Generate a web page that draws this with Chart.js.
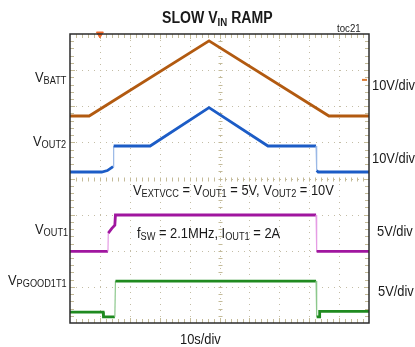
<!DOCTYPE html>
<html>
<head>
<meta charset="utf-8">
<script src="https://cdn.jsdelivr.net/npm/chart.js@4.4.1/dist/chart.umd.min.js"></script>
<style>
  body { margin: 0; background: #fff; }
  #wrap { position: relative; width: 415px; height: 347px; font-family: "Liberation Sans", Arial, sans-serif; color: #1a1a1a; }
  #scope { position: absolute; left: 0; top: 0; }
  .lbl { position: absolute; font-size: 14px; line-height: 14px; white-space: nowrap; transform-origin: left top; transform: scaleX(0.92); }
  .lbl sub { font-size: 10px; vertical-align: baseline; position: relative; top: 2px; }
  .title { font-size: 16px; line-height: 16px; font-weight: bold; transform: scaleX(0.88); }
  .title sub { font-size: 11px; top: 3px; }
  .small { font-size: 10.5px; line-height: 11px; }
</style>
</head>
<body>
<div id="wrap">
  <canvas id="scope" width="415" height="347"></canvas>
  <div class="lbl title" style="left:162px; top:10px;">SLOW V<sub>IN</sub> RAMP</div>
  <div class="lbl small" style="left:337px; top:23px;">toc21</div>

  <div class="lbl" style="left:35px; top:70px;">V<sub>BATT</sub></div>
  <div class="lbl" style="left:33px; top:134px;">V<sub>OUT2</sub></div>
  <div class="lbl" style="left:35px; top:222px;">V<sub>OUT1</sub></div>
  <div class="lbl" style="left:8px; top:273px;">V<sub>PGOOD1T1</sub></div>

  <div class="lbl" style="left:372px; top:78px;">10V/div</div>
  <div class="lbl" style="left:372px; top:151px;">10V/div</div>
  <div class="lbl" style="left:377px; top:224px;">5V/div</div>
  <div class="lbl" style="left:378px; top:284px;">5V/div</div>

  <div class="lbl" style="left:133px; top:183px;">V<sub>EXTVCC</sub> = V<sub>OUT1</sub> = 5V, V<sub>OUT2</sub> = 10V</div>
  <div class="lbl" style="left:137px; top:226px;">f<sub>SW</sub> = 2.1MHz, I<sub>OUT1</sub> = 2A</div>
  <div class="lbl" style="left:180px; top:332px;">10s/div</div>
</div>

<script>
// Scope screen: 10 horizontal divisions, 8 vertical divisions
const xDivs = 10;
const yDivs = 8;

// Traces, time and level read in screen divisions
const vbattTime = [0, 0.64, 4.65, 8.66, 10];
const vbattLevel = [5.73, 5.73, 7.81, 5.73, 5.73];

const vout2Time = [0, 1.06, 1.25, 1.44, 1.46, 2.68, 4.65, 6.62, 8.23, 8.25, 8.3, 10];
const vout2Level = [4.18, 4.18, 4.22, 4.33, 4.90, 4.90, 5.96, 4.90, 4.90, 4.22, 4.18, 4.18];

const vout1Time = [0, 1.27, 1.28, 1.4, 1.5, 1.52, 8.23, 8.25, 10];
const vout1Level = [1.98, 1.98, 2.49, 2.62, 2.71, 2.99, 2.99, 1.98, 1.98];

const pgoodTime = [0, 1.11, 1.12, 1.50, 1.52, 8.23, 8.25, 8.33, 8.35, 10];
const pgoodLevel = [0.30, 0.30, 0.17, 0.17, 1.16, 1.16, 0.17, 0.17, 0.32, 0.32];

// Trigger marker on top edge, channel marker on right edge
const trigTime = [1.0];
const trigLevel = [8];
const chanTime = [9.85];
const chanLevel = [6.73];

function toPoints(xs, ys) {
    return xs.map((x, i) => ({ x: x, y: ys[i] }));
}

// Fast edges are drawn lighter, like on the scope
function isEdge(c) {
    const dx = Math.abs(c.p1.parsed.x - c.p0.parsed.x);
    const dy = Math.abs(c.p1.parsed.y - c.p0.parsed.y);
    return dx < 0.05 && dy > 0.3;
}

function trace(data, color, edge) {
    return {
        data: data,
        borderColor: color,
        borderWidth: 2.8,
        pointRadius: 0,
        tension: 0,
        segment: {
            borderColor: c => isEdge(c) ? edge : undefined,
            borderWidth: c => isEdge(c) ? 1.2 : undefined
        }
    };
}

// Dotted graticule, minor ticks and frame
const graticule = {
    id: 'graticule',
    beforeDatasetsDraw(chart) {
        const { ctx, chartArea: a, scales: { x, y } } = chart;
        ctx.save();
        ctx.strokeStyle = '#c4bda6';
        ctx.lineWidth = 1;
        ctx.setLineDash([1, 5]);
        for (let i = 1; i < xDivs; i++) {
            const px = Math.round(x.getPixelForValue(i)) + 0.5;
            ctx.beginPath(); ctx.moveTo(px, a.top); ctx.lineTo(px, a.bottom); ctx.stroke();
        }
        for (let j = 1; j < yDivs; j++) {
            const py = Math.round(y.getPixelForValue(j)) + 0.5;
            ctx.beginPath(); ctx.moveTo(a.left, py); ctx.lineTo(a.right, py); ctx.stroke();
        }
        ctx.setLineDash([]);
        ctx.strokeStyle = '#c4bb98';
        const cx = Math.round(x.getPixelForValue(xDivs / 2)) + 0.5;
        const cy = Math.round(y.getPixelForValue(yDivs / 2)) + 0.5;
        for (let k = 1; k < xDivs * 5; k++) {
            const px = Math.round(x.getPixelForValue(k / 5)) + 0.5;
            const len = k % 5 === 0 ? 5 : 4;
            ctx.beginPath();
            ctx.moveTo(px, a.top); ctx.lineTo(px, a.top + len);
            ctx.moveTo(px, a.bottom); ctx.lineTo(px, a.bottom - len);
            ctx.moveTo(px, cy - 2); ctx.lineTo(px, cy + 2);
            ctx.stroke();
        }
        for (let k = 1; k < yDivs * 5; k++) {
            const py = Math.round(y.getPixelForValue(k / 5)) + 0.5;
            const len = k % 5 === 0 ? 5 : 4;
            ctx.beginPath();
            ctx.moveTo(a.left, py); ctx.lineTo(a.left + len, py);
            ctx.moveTo(a.right, py); ctx.lineTo(a.right - len, py);
            ctx.moveTo(cx - 2, py); ctx.lineTo(cx + 2, py);
            ctx.stroke();
        }
        ctx.restore();
    },
    afterDatasetsDraw(chart) {
        const { ctx, chartArea: a } = chart;
        ctx.save();
        ctx.strokeStyle = '#2b2b2b';
        ctx.lineWidth = 1.5;
        ctx.strokeRect(a.left, a.top, a.right - a.left, a.bottom - a.top);
        ctx.restore();
    }
};

const ctx = document.getElementById('scope').getContext('2d');
new Chart(ctx, {
    type: 'line',
    data: {
        datasets: [
            trace(toPoints(vbattTime, vbattLevel), '#b25a10', '#d9a070'),
            trace(toPoints(vout2Time, vout2Level), '#1c5cc6', '#9ab8e6'),
            trace(toPoints(vout1Time, vout1Level), '#a0169f', '#e59ce4'),
            trace(toPoints(pgoodTime, pgoodLevel), '#1f8a1f', '#8cc88c'),
            {
                data: toPoints(trigTime, trigLevel),
                showLine: false,
                pointStyle: 'triangle',
                rotation: 180,
                pointRadius: 4,
                pointBackgroundColor: '#f26a2a',
                pointBorderColor: '#f26a2a',
                clip: false
            },
            {
                data: toPoints(chanTime, chanLevel),
                showLine: false,
                pointStyle: 'line',
                pointRadius: 2.5,
                pointBorderWidth: 2,
                pointBorderColor: '#d9782f',
                clip: false
            }
        ]
    },
    options: {
        responsive: false,
        animation: false,
        events: [],
        layout: { padding: { left: 70, top: 34, right: 46, bottom: 24 } },
        plugins: { legend: { display: false }, tooltip: { enabled: false } },
        scales: {
            x: { type: 'linear', min: 0, max: xDivs, display: false },
            y: { type: 'linear', min: 0, max: yDivs, display: false }
        }
    },
    plugins: [graticule]
});
</script>
</body>
</html>
